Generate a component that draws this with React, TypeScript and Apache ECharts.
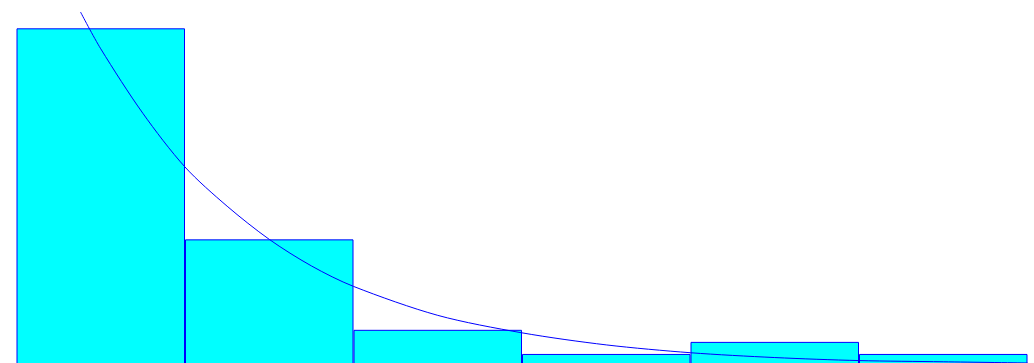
import React, { useEffect, useRef } from "react";
import * as echarts from "echarts";

// Histogram bins (counts per bin)
const binLabels = ["0-1", "1-2", "2-3", "3-4", "4-5", "5-6"];
const binCounts = [56, 21, 6, 2, 4, 2];

// Fitted exponential density curve, scaled to counts (x in bin units)
const curveX = [0.38, 0.5, 0.75, 1.0, 1.25, 1.5, 1.75, 2.0, 2.5, 3.0, 3.5, 4.0, 4.5, 5.0, 5.5, 6.0];
const curveY = [58.7, 52.6, 41.9, 33.0, 26.5, 21.0, 16.6, 13.2, 8.4, 5.5, 3.5, 2.2, 1.4, 0.9, 0.7, 0.5];

const BAR_FILL = "#00FFFF";
const LINE_BLUE = "#0000FF";

export default function App() {
  const ref = useRef<HTMLDivElement | null>(null);

  useEffect(() => {
    if (!ref.current) return;
    const chart = echarts.init(ref.current, undefined, { renderer: "svg" });
    chart.setOption({
      animation: false,
      backgroundColor: "#ffffff",
      // baseline sits just below the visible area so the bar bottoms are cut off
      grid: { left: 16.5, right: 6.5, top: 4.2, bottom: 4, containLabel: false },
      xAxis: [
        {
          type: "category",
          data: binLabels,
          show: false,
          boundaryGap: true,
        },
        {
          type: "value",
          min: 0,
          max: 6,
          show: false,
        },
      ],
      yAxis: {
        type: "value",
        min: 0,
        max: 60,
        show: false,
      },
      series: [
        {
          type: "bar",
          xAxisIndex: 0,
          data: binCounts,
          barCategoryGap: "0%",
          itemStyle: { color: BAR_FILL, borderColor: LINE_BLUE, borderWidth: 1 },
          silent: true,
        },
        {
          type: "line",
          xAxisIndex: 1,
          data: curveX.map((x, i) => [x, curveY[i]]),
          smooth: 0.3,
          showSymbol: false,
          lineStyle: { color: LINE_BLUE, width: 1 },
          silent: true,
          z: 3,
        },
      ],
    });
    return () => chart.dispose();
  }, []);

  return (
    <div style={{ position: "fixed", left: 0, top: 0, width: 1034, height: 363, overflow: "hidden", background: "#fff" }}>
      <div ref={ref} style={{ width: 1034, height: 370 }} />
    </div>
  );
}
